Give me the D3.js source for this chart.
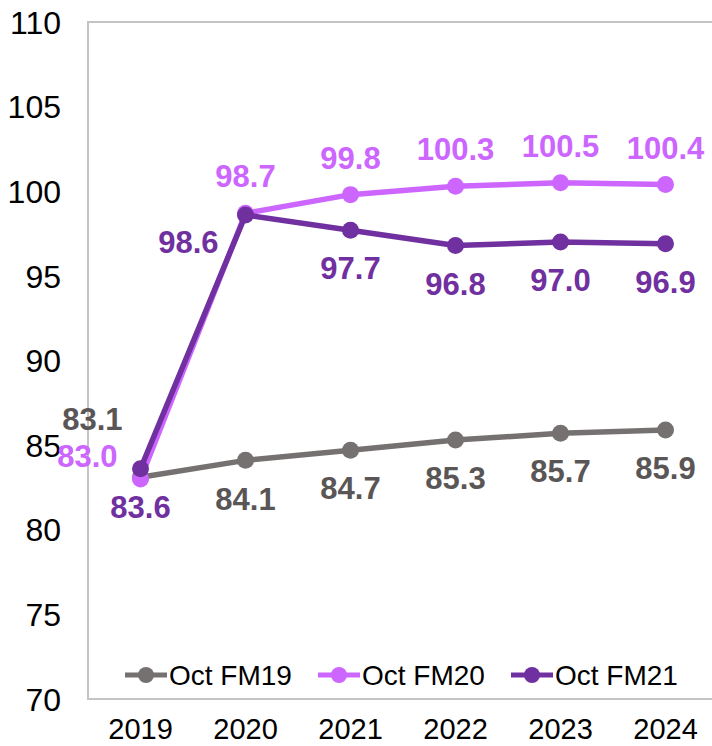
<!DOCTYPE html>
<html>
<head>
<meta charset="utf-8">
<script src="https://cdn.jsdelivr.net/npm/d3@7"></script>
<style>
  html, body { margin: 0; padding: 0; background: #ffffff; }
  svg { display: block; }
</style>
</head>
<body>
<svg id="chart" width="712" height="746"></svg>
<script>
// ---- data ----
const years = ["2019", "2020", "2021", "2022", "2023", "2024"];
const fm19 = [83.1, 84.1, 84.7, 85.3, 85.7, 85.9];
const fm20 = [83.0, 98.7, 99.8, 100.3, 100.5, 100.4];
const fm21 = [83.6, 98.6, 97.7, 96.8, 97.0, 96.9];
const seriesNames = ["Oct FM19", "Oct FM20", "Oct FM21"];
const yTicks = [70, 75, 80, 85, 90, 95, 100, 105, 110];

// ---- styles / layout (kept separate from data) ----
const colors = { "Oct FM19": "#767171", "Oct FM20": "#CC66FF", "Oct FM21": "#7030A0" };
const labelColors = { "Oct FM19": "#5A5656", "Oct FM20": "#CC66FF", "Oct FM21": "#7030A0" };
// label placement: default per series, with per-index exceptions
const placement = {
  "Oct FM19": { def: "below", ex: { 0: "aboveLeft" } },
  "Oct FM20": { def: "above", ex: { 0: "left" } },
  "Oct FM21": { def: "below", ex: { 1: "belowLeft" } }
};
const placeOffsets = {
  below:     { dx: 0,   dy: 38,  anchor: "middle" },
  above:     { dx: 0,   dy: -37, anchor: "middle" },
  left:      { dx: -23, dy: -23, anchor: "end" },
  aboveLeft: { dx: -18, dy: -58, anchor: "end" },
  belowLeft: { dx: -27, dy: 27,  anchor: "end" }
};

const series = [
  { name: seriesNames[0], values: fm19 },
  { name: seriesNames[1], values: fm20 },
  { name: seriesNames[2], values: fm21 }
];

const plot = { left: 88, top: 22, right: 718, bottom: 699 };
const FONT = "'Liberation Sans', Arial, Helvetica, sans-serif";

const svg = d3.select("#chart");

const x = d3.scaleBand().domain(years).range([plot.left, plot.right]).padding(0);
const y = d3.scaleLinear().domain([70, 110]).range([plot.bottom, plot.top]);
const cx = d => x(d) + x.bandwidth() / 2;

// plot area frame
svg.append("rect")
  .attr("x", plot.left).attr("y", plot.top)
  .attr("width", plot.right - plot.left).attr("height", plot.bottom - plot.top)
  .attr("fill", "none").attr("stroke", "#C4C4C4").attr("stroke-width", 2);

// y axis
const yAxis = d3.axisLeft(y).tickValues(yTicks).tickSize(0).tickPadding(0).tickFormat(d3.format("d"));
const yg = svg.append("g").attr("transform", `translate(61,0)`).call(yAxis);
yg.select(".domain").remove();
yg.selectAll("text")
  .attr("font-family", FONT).attr("font-size", 32).attr("fill", "#000")
  .attr("dy", "0.35em");

// x axis
const xAxis = d3.axisBottom(x).tickSize(0).tickPadding(0);
const xg = svg.append("g").attr("transform", `translate(0,${plot.bottom})`).call(xAxis);
xg.select(".domain").remove();
xg.selectAll("text")
  .attr("font-family", FONT).attr("font-size", 29).attr("fill", "#000")
  .attr("y", 0).attr("dy", 0)
  .attr("transform", "translate(0,40)");

// lines & points
const line = d3.line().x((d, i) => cx(years[i])).y(d => y(d));

series.forEach(s => {
  const g = svg.append("g");
  g.append("path")
    .datum(s.values)
    .attr("d", line)
    .attr("fill", "none")
    .attr("stroke", colors[s.name])
    .attr("stroke-width", 5.5)
    .attr("stroke-linejoin", "round");
  g.selectAll("circle")
    .data(s.values)
    .join("circle")
    .attr("cx", (d, i) => cx(years[i]))
    .attr("cy", d => y(d))
    .attr("r", 8.5)
    .attr("fill", colors[s.name]);
});

// data labels
series.forEach(s => {
  const p = placement[s.name];
  svg.append("g").selectAll("text")
    .data(s.values)
    .join("text")
    .each(function (d, i) {
      const o = placeOffsets[p.ex[i] || p.def];
      d3.select(this)
        .attr("x", cx(years[i]) + o.dx)
        .attr("y", y(d) + o.dy)
        .attr("text-anchor", o.anchor);
    })
    .attr("dy", "0.36em")
    .attr("font-family", FONT)
    .attr("font-size", 31)
    .attr("font-weight", "bold")
    .attr("fill", labelColors[s.name])
    .text(d => d3.format(".1f")(d));
});

// legend
const legend = svg.append("g").attr("transform", "translate(125,675)");
const item = legend.selectAll("g")
  .data(seriesNames)
  .join("g")
  .attr("transform", (d, i) => `translate(${i * 193},0)`);
item.append("line")
  .attr("x1", 0).attr("x2", 42).attr("y1", 0).attr("y2", 0)
  .attr("stroke", d => colors[d]).attr("stroke-width", 5);
item.append("circle")
  .attr("cx", 21).attr("cy", 0).attr("r", 8)
  .attr("fill", d => colors[d]);
item.append("text")
  .attr("x", 44).attr("y", 0).attr("dy", "0.36em")
  .attr("font-family", FONT).attr("font-size", 28).attr("fill", "#000")
  .text(d => d);
</script>
</body>
</html>
